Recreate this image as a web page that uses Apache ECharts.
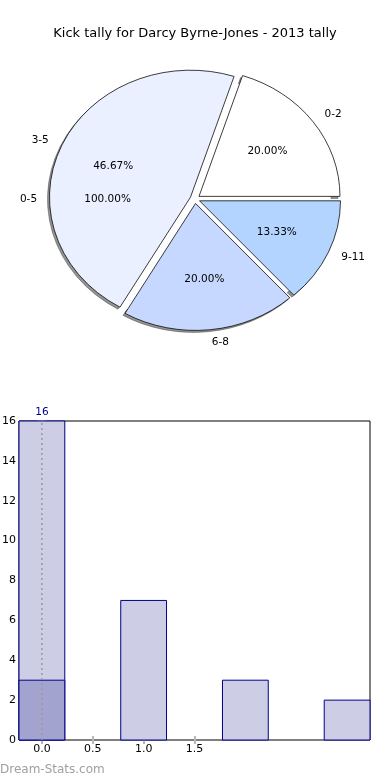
<!DOCTYPE html>
<html><head><meta charset="utf-8">
<script src="https://cdn.jsdelivr.net/npm/echarts@6/dist/echarts.min.js"></script>
<style>html,body{margin:0;padding:0;background:#fff}#c{width:390px;height:780px}</style>
</head><body><div id="c"></div>
<script>
// ---- data ----
const titleText = 'Kick tally for Darcy Byrne-Jones - 2013 tally';
const pieLabels = ['0-2', '3-5', '6-8', '9-11'];
const pieCounts = [3, 7, 3, 2];
const pieColors = ['#ffffff', '#eaf0ff', '#c6d8ff', '#b3d4ff'];
const totalLabels = ['0-5'];
const totalCounts = [15];

const barX = [0, 1, 2, 3];
const barValues = [16, 7, 3, 2];
const barTopLabels = ['16', '', '', ''];
const overlayX = [0];
const overlayValues = [3];
const refLine = [[0, 0], [0, 16]];
const xTickValues = [0, 0.5, 1, 1.5];
const xTickLabels = ['0.0', '0.5', '1.0', '1.5'];

// ---- layout / style ----
const CX = 195, CY = 199, RX = 141, RY = 127, EXPLODE = 0.035, TOTAL_EXPLODE = 0.02;
const BAR_W = 0.45;
const FONT = 'DejaVu Sans';

const chart = echarts.init(document.getElementById('c'), null, {renderer: 'canvas'});

function wedgeGroup(labels, counts, colors, explode, i, withFace) {
  const total = counts.reduce((a, b) => a + b, 0);
  let cum = 0;
  for (let k = 0; k < i; k++) cum += counts[k];
  const a1 = cum / total * 2 * Math.PI;
  const a2 = (cum + counts[i]) / total * 2 * Math.PI;
  const mid = (a1 + a2) / 2;
  const ox = CX + explode * RX * Math.cos(mid);
  const oy = CY - explode * RY * Math.sin(mid);
  const sy = RY / RX;
  const children = [];
  if (withFace) {
    children.push({
      type: 'sector', z2: 1,
      shape: {cx: ox - 2, cy: oy + 2, r: RX, r0: RX - 7, startAngle: -a2, endAngle: -a1, clockwise: true},
      originX: ox - 2, originY: oy + 2, scaleY: sy,
      style: {fill: 'rgba(60,60,60,0.55)', stroke: 'rgba(40,40,40,0.7)', lineWidth: 0.6}
    });
    children.push({
      type: 'sector', z2: 2,
      shape: {cx: ox, cy: oy, r: RX, r0: 0, startAngle: -a2, endAngle: -a1, clockwise: true},
      originX: ox, originY: oy, scaleY: sy,
      style: {fill: colors[i], stroke: '#000', lineWidth: 0.8}
    });
  }
  const c = Math.cos(mid), s = Math.sin(mid);
  children.push({
    type: 'text', z2: 5,
    x: ox + 1.1 * RX * c, y: oy - 1.1 * RY * s,
    style: {text: labels[i], fill: '#000', fontSize: 10.5, fontFamily: FONT,
      align: c >= 0 ? 'left' : 'right', verticalAlign: 'middle'}
  });
  children.push({
    type: 'text', z2: 5,
    x: ox + 0.6 * RX * c, y: oy - 0.6 * RY * s,
    style: {text: (counts[i] / total * 100).toFixed(2) + '%', fill: '#000', fontSize: 10.5,
      fontFamily: FONT, align: 'center', verticalAlign: 'middle'}
  });
  return {type: 'group', children: children};
}

const option = {
  animation: false,
  backgroundColor: '#fff',
  title: {
    text: titleText, left: 'center', top: 22,
    textStyle: {fontSize: 13, fontWeight: 'normal', color: '#000', fontFamily: FONT}
  },
  graphic: [{
    type: 'text', left: 0, top: 764,
    style: {text: 'Dream-Stats.com', fill: '#a0a0a0', fontSize: 12, fontWeight: 'normal', fontFamily: FONT}
  }],
  grid: {
    left: 19, right: 20, top: 421, bottom: 40, containLabel: false, outerBoundsMode: 'none',
    show: true, borderColor: '#000', borderWidth: 1, backgroundColor: 'transparent'
  },
  xAxis: [{
    type: 'value', min: -BAR_W / 2, max: 3 + BAR_W / 2, position: 'bottom',
    splitLine: {show: false}, axisLine: {show: false},
    axisTick: {show: true, inside: true, length: 4, customValues: xTickValues,
      lineStyle: {color: '#b8b8b8', width: 2}},
    axisLabel: {customValues: xTickValues, formatter: v => xTickLabels[xTickValues.indexOf(v)] ?? '',
      color: '#000', fontSize: 11, fontFamily: FONT, margin: 4}
  }, {
    type: 'value', min: -BAR_W / 2, max: 3 + BAR_W / 2, position: 'top',
    splitLine: {show: false}, axisLine: {show: false},
    axisTick: {show: true, inside: true, length: 4, customValues: xTickValues,
      lineStyle: {color: '#b8b8b8', width: 2}},
    axisLabel: {show: false}
  }],
  yAxis: [{
    type: 'value', min: 0, max: 16, interval: 2, position: 'left',
    splitLine: {show: false}, axisLine: {show: false},
    axisTick: {show: true, inside: true, length: 4, lineStyle: {color: '#b8b8b8', width: 2}},
    axisLabel: {color: '#000', fontSize: 11, fontFamily: FONT, margin: 3}
  }, {
    type: 'value', min: 0, max: 16, interval: 2, position: 'right',
    splitLine: {show: false}, axisLine: {show: false},
    axisTick: {show: true, inside: true, length: 4, lineStyle: {color: '#b8b8b8', width: 2}},
    axisLabel: {show: false}
  }],
  series: [
    {
      type: 'custom', coordinateSystem: 'none', z: 6,
      data: totalCounts.map((v, i) => [i, v]),
      renderItem: (params) => wedgeGroup(totalLabels, totalCounts, pieColors, TOTAL_EXPLODE, params.dataIndex, false)
    },
    {
      type: 'custom', coordinateSystem: 'none', z: 3,
      data: pieCounts.map((v, i) => [i, v]),
      renderItem: (params) => wedgeGroup(pieLabels, pieCounts, pieColors, EXPLODE, params.dataIndex, true)
    },
    {
      type: 'custom', xAxisIndex: 0, yAxisIndex: 0, z: 3,
      data: barX.map((x, i) => [x, barValues[i]]),
      renderItem: (params, api) => {
        const x = api.value(0), v = api.value(1);
        const p0 = api.coord([x - BAR_W / 2, v]);
        const p1 = api.coord([x + BAR_W / 2, 0]);
        const children = [{
          type: 'rect',
          shape: {x: p0[0], y: p0[1], width: p1[0] - p0[0], height: p1[1] - p0[1]},
          style: {fill: '#cdcde5', stroke: '#00008b', lineWidth: 1}
        }];
        const lbl = barTopLabels[params.dataIndex];
        if (lbl) children.push({
          type: 'text', x: (p0[0] + p1[0]) / 2, y: p0[1] - 3,
          style: {text: lbl, fill: '#00008b', fontSize: 10.5, fontFamily: FONT, align: 'center', verticalAlign: 'bottom'}
        });
        return {type: 'group', children: children};
      }
    },
    {
      type: 'custom', xAxisIndex: 0, yAxisIndex: 0, z: 4,
      data: overlayX.map((x, i) => [x, overlayValues[i]]),
      renderItem: (params, api) => {
        const x = api.value(0), v = api.value(1);
        const p0 = api.coord([x - BAR_W / 2, v]);
        const p1 = api.coord([x + BAR_W / 2, 0]);
        return {
          type: 'rect',
          shape: {x: p0[0], y: p0[1], width: p1[0] - p0[0], height: p1[1] - p0[1]},
          style: {fill: '#a3a3d0', stroke: '#00008b', lineWidth: 1}
        };
      }
    },
    {
      type: 'line', xAxisIndex: 0, yAxisIndex: 0, z: 5, data: refLine, symbol: 'none',
      lineStyle: {color: '#999999', width: 1.5, type: [2, 3]}
    }
  ]
};
chart.setOption(option);
</script>
</body></html>
